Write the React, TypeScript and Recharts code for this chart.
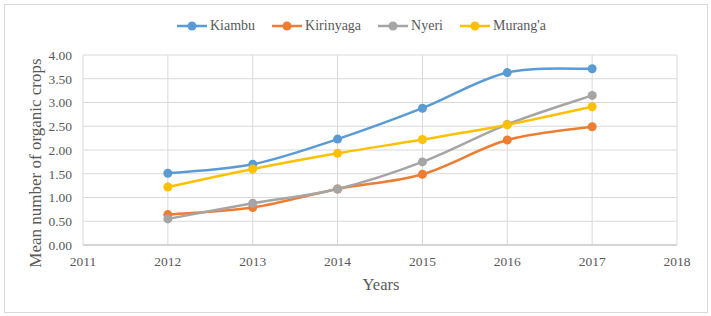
import React from 'react';
import { LineChart, Line, XAxis, YAxis, CartesianGrid, Legend } from 'recharts';

const years = [2012, 2013, 2014, 2015, 2016, 2017];
const kiambu = [1.51, 1.7, 2.23, 2.88, 3.63, 3.71];
const kirinyaga = [0.64, 0.79, 1.18, 1.49, 2.21, 2.49];
const nyeri = [0.55, 0.88, 1.18, 1.75, 2.54, 3.15];
const muranga = [1.22, 1.6, 1.93, 2.22, 2.53, 2.91];

const xTicks = [2011, 2012, 2013, 2014, 2015, 2016, 2017, 2018];
const yTicks = [0, 0.5, 1, 1.5, 2, 2.5, 3, 3.5, 4];

const seriesNames = ['Kiambu', 'Kirinyaga', 'Nyeri', "Murang'a"];
const seriesKeys = ['kiambu', 'kirinyaga', 'nyeri', 'muranga'];
const colors = ['#5B9BD5', '#ED7D31', '#A5A5A5', '#FFC000'];

const data = years.map((year, i) => ({
  year,
  kiambu: kiambu[i],
  kirinyaga: kirinyaga[i],
  nyeri: nyeri[i],
  muranga: muranga[i],
}));

const FONT = '"Liberation Serif", "Times New Roman", serif';
const TEXT = '#595959';

// Excel-like smoothed line (Catmull-Rom bezier)
const excelCurve = (context: any) => {
  let pts: number[][] = [];
  return {
    areaStart() {},
    areaEnd() {},
    lineStart() {
      pts = [];
    },
    lineEnd() {
      const n = pts.length;
      if (!n) return;
      context.moveTo(pts[0][0], pts[0][1]);
      if (n === 1) return;
      const k = 1 / 6;
      for (let i = 0; i < n - 1; i++) {
        const p0 = pts[Math.max(i - 1, 0)];
        const p1 = pts[i];
        const p2 = pts[i + 1];
        const p3 = pts[Math.min(i + 2, n - 1)];
        context.bezierCurveTo(
          p1[0] + (p2[0] - p0[0]) * k,
          p1[1] + (p2[1] - p0[1]) * k,
          p2[0] - (p3[0] - p1[0]) * k,
          p2[1] - (p3[1] - p1[1]) * k,
          p2[0],
          p2[1]
        );
      }
    },
    point(x: number, y: number) {
      pts.push([x, y]);
    },
  };
};

const renderLegend = () => (
  <div style={{ height: 41, display: 'flex', justifyContent: 'center', alignItems: 'flex-start', paddingLeft: 45, boxSizing: 'border-box' }}>
    {seriesNames.map((name, i) => (
      <div key={name} style={{ display: 'flex', alignItems: 'center', height: 24, marginRight: i < seriesNames.length - 1 ? 16 : 0 }}>
        <svg width={32} height={12} style={{ display: 'block' }}>
          <line x1={1} y1={6} x2={31} y2={6} stroke={colors[i]} strokeWidth={2.5} />
          <circle cx={16} cy={6} r={4.5} fill={colors[i]} />
        </svg>
        <span style={{ marginLeft: 2, fontFamily: FONT, fontSize: 14, color: TEXT, lineHeight: '24px' }}>{name}</span>
      </div>
    ))}
  </div>
);

const tickStyle = { fontFamily: FONT, fontSize: 13.5, fill: TEXT };

export default function App() {
  return (
    <div style={{ position: 'absolute', left: 0, top: 0, width: 711, height: 316, background: '#fff', fontFamily: FONT }}>
      <div
        style={{
          position: 'absolute',
          left: 4,
          top: 4,
          width: 704,
          height: 309,
          border: '1px solid #d9d9d9',
          boxSizing: 'border-box',
        }}
      />
      <div style={{ position: 'absolute', left: 0, top: 0 }}>
        <LineChart
          width={711}
          height={316}
          data={data}
          margin={{ top: 14, right: 34, bottom: 0, left: 0 }}
          style={{ fontFamily: FONT }}
        >
          <CartesianGrid stroke="#d9d9d9" strokeWidth={1} />
          <XAxis
            dataKey="year"
            type="number"
            domain={[2011, 2018]}
            ticks={xTicks}
            interval={0}
            height={71}
            tickLine={false}
            tickSize={0}
            tickMargin={11}
            axisLine={{ stroke: '#bfbfbf' }}
            tick={tickStyle}
            label={{
              content: () => (
                <text x={381} y={290} textAnchor="middle" fontFamily={FONT} fontSize={16.5} fill={TEXT}>
                  Years
                </text>
              ),
            }}
          />
          <YAxis
            type="number"
            domain={[0, 4]}
            ticks={yTicks}
            interval={0}
            width={83}
            tickLine={false}
            axisLine={false}
            tickSize={0}
            tickMargin={11}
            tickFormatter={(v: number) => v.toFixed(2)}
            tick={tickStyle}
            label={{
              content: () => (
                <text
                  x={35}
                  y={163}
                  transform="rotate(-90 35 163)"
                  textAnchor="middle"
                  dominantBaseline="central"
                  fontFamily={FONT}
                  fontSize={17}
                  fill={TEXT}
                >
                  Mean number of organic crops
                </text>
              ),
            }}
          />
          <Legend verticalAlign="top" align="center" content={renderLegend} />
          {seriesKeys.map((k, i) => (
            <Line
              key={k}
              dataKey={k}
              name={seriesNames[i]}
              type={excelCurve as any}
              stroke={colors[i]}
              strokeWidth={2.5}
              dot={{ r: 4.5, fill: colors[i], stroke: colors[i], strokeWidth: 0 }}
              activeDot={false}
              isAnimationActive={false}
            />
          ))}
        </LineChart>
      </div>
    </div>
  );
}
